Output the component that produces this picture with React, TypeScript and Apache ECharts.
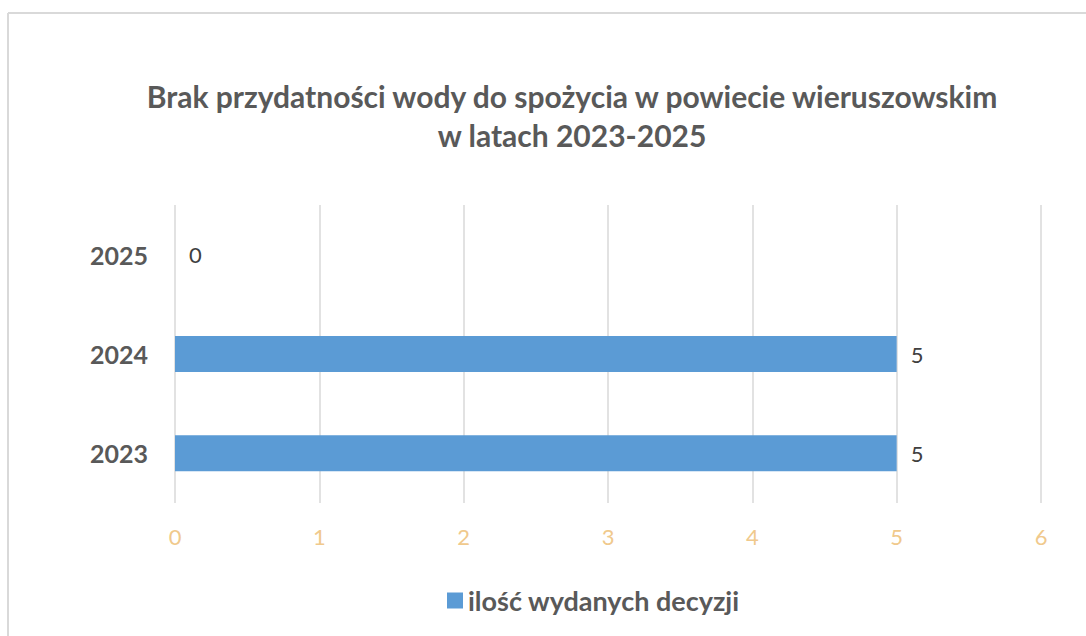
import React, { useEffect, useRef } from "react";
import * as echarts from "echarts";

const titleLines = [
  "Brak przydatności wody do spożycia w powiecie wieruszowskim",
  "w latach 2023-2025",
];
const years = ["2023", "2024", "2025"];
const decisions = [5, 5, 0];
const seriesName = "ilość wydanych decyzji";
const xTicks = [0, 1, 2, 3, 4, 5, 6];

const FONT = "Lato";

export default function App() {
  const ref = useRef<HTMLDivElement>(null);
  useEffect(() => {
    if (!ref.current) return;
    const chart = echarts.init(ref.current, undefined, { renderer: "svg" });
    chart.setOption({
      animation: false,
      backgroundColor: "#ffffff",
      textStyle: { fontFamily: FONT },
      graphic: [
        {
          type: "line",
          shape: { x1: 8, y1: 13, x2: 1086, y2: 13 },
          style: { stroke: "#d9d9d9", lineWidth: 2 },
        },
        {
          type: "line",
          shape: { x1: 8, y1: 13, x2: 8, y2: 636 },
          style: { stroke: "#d9d9d9", lineWidth: 2 },
        },
        ...titleLines.map((t, i) => ({
          type: "text",
          x: 572,
          y: 96 + i * 39,
          style: {
            text: t,
            fill: "#595959",
            font: `bold 30px ${FONT}`,
            textAlign: "center",
            textVerticalAlign: "middle",
          },
        })),
      ],
      legend: {
        left: 442,
        top: 582,
        icon: "rect",
        itemWidth: 16,
        itemHeight: 16,
        itemGap: 8,
        textStyle: { fontFamily: FONT, fontSize: 27, fontWeight: "bold", color: "#595959" },
        data: [seriesName],
      },
      grid: { left: 175, right: 45, top: 205, bottom: 133, containLabel: false },
      xAxis: {
        type: "value",
        min: xTicks[0],
        max: xTicks[xTicks.length - 1],
        interval: 1,
        axisLine: { show: false },
        axisTick: { show: false },
        axisLabel: { color: "#F0C98C", fontSize: 22, fontFamily: FONT, margin: 22 },
        splitLine: { show: true, lineStyle: { color: "#d9d9d9", width: 1.5 } },
      },
      yAxis: {
        type: "category",
        data: years,
        axisLine: { show: false },
        axisTick: { show: false },
        axisLabel: { color: "#595959", fontSize: 25, fontWeight: "bold", fontFamily: FONT, margin: 27 },
        splitLine: { show: false },
      },
      series: [
        {
          name: seriesName,
          type: "bar",
          data: decisions,
          barWidth: 36,
          itemStyle: { color: "#5B9BD5" },
          label: {
            show: true,
            position: "right",
            distance: 14,
            color: "#404040",
            fontSize: 22,
            fontFamily: FONT,
          },
        },
      ],
    });
    return () => chart.dispose();
  }, []);
  return (
    <div
      ref={ref}
      style={{ position: "fixed", left: 0, top: 0, width: 1086, height: 636 }}
    />
  );
}
